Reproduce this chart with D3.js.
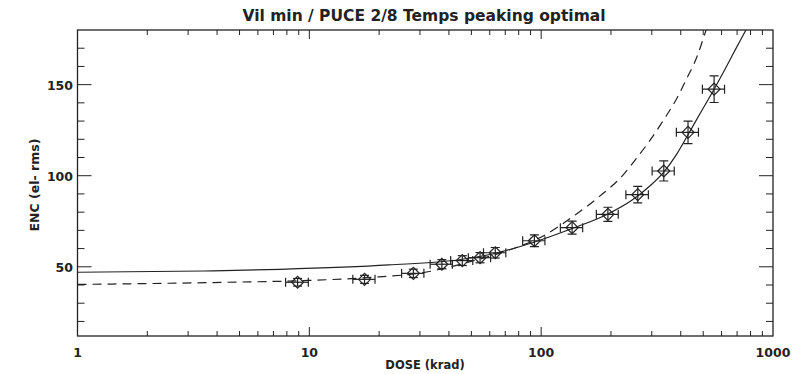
<!DOCTYPE html>
<html>
<head>
<meta charset="utf-8">
<script src="https://cdn.jsdelivr.net/npm/d3@7"></script>
<style>
  body { margin: 0; background: #fff; }
  text { font-family: "DejaVu Sans", sans-serif; fill: #222; }
</style>
</head>
<body>
<svg id="chart" width="803" height="374"></svg>
<script>
// measured points
var doses   = [8.9, 17.3, 28.1, 37.3, 45.7, 54.5, 63.4, 93.5, 136, 194, 261, 338, 430, 557];
var doseErr = [1.0, 1.9, 3.1, 4.1, 5.0, 6.0, 7.0, 10.3, 15, 21, 29, 37, 47, 61];
var enc     = [41.5, 43.1, 46.4, 51.4, 53.4, 55.0, 57.7, 64.3, 71.5, 78.8, 89.6, 102.6, 123.8, 147.5];
var encErr  = [2.1, 2.2, 2.3, 2.5, 2.7, 2.8, 2.9, 3.2, 3.6, 3.9, 4.5, 5.5, 6.2, 7.3];

// solid curve
var solidDose = [1, 3.5, 7.5, 22, 45, 63, 93, 136, 194, 246, 295, 338, 385, 430, 484, 557, 630, 700, 771, 820];
var solidEnc  = [47.0, 47.7, 48.6, 51.0, 54.0, 57.3, 63.5, 71.0, 79.0, 86.5, 94.5, 102.0, 112.0, 122.5, 134.0, 147.5, 160.0, 171.0, 181.0, 188.0];

// dashed curve
var dashDose = [1, 4.4, 10, 20, 30, 50, 70, 104, 142, 178, 226, 263, 295, 337, 385, 425, 469, 513, 540];
var dashEnc  = [40.3, 41.5, 42.5, 44.5, 46.5, 53.0, 58.5, 67.5, 79.0, 88.5, 100.5, 111.0, 119.5, 130.5, 142.5, 153.5, 165.0, 179.5, 188.0];

var xTicks = [1, 10, 100, 1000];
var yTicks = [50, 100, 150];

var svg = d3.select("#chart");
var x = d3.scaleLog().domain([1, 1000]).range([77.5, 773]);
var y = d3.scaleLinear().domain([12, 180]).range([336, 30]);
var ink = "#222";

// clip
svg.append("defs").append("clipPath").attr("id", "plot")
  .append("rect").attr("x", 77.5).attr("y", 30).attr("width", 773 - 77.5).attr("height", 336 - 30);

// frame
svg.append("rect").attr("x", 77.5).attr("y", 30).attr("width", 773 - 77.5).attr("height", 306)
  .attr("fill", "none").attr("stroke", ink).attr("stroke-width", 1.3);

// x ticks (bottom and top, pointing inwards)
var xMinor = [];
[1, 10, 100].forEach(function (d) { for (var k = 2; k <= 9; k++) xMinor.push(d * k); });
var xAll = xTicks.slice(1, 3).map(function (d) { return {v: d, len: 9}; })
  .concat(xMinor.map(function (d) { return {v: d, len: 5}; }));
xAll.forEach(function (t) {
  svg.append("line").attr("x1", x(t.v)).attr("x2", x(t.v)).attr("y1", 336).attr("y2", 336 - t.len)
    .attr("stroke", ink).attr("stroke-width", 1);
  svg.append("line").attr("x1", x(t.v)).attr("x2", x(t.v)).attr("y1", 30).attr("y2", 30 + t.len)
    .attr("stroke", ink).attr("stroke-width", 1);
});

// y ticks (left and right)
var yAll = [];
for (var v = 20; v <= 170; v += 10) yAll.push({v: v, len: (v % 50 === 0) ? 14 : 7});
yAll.forEach(function (t) {
  svg.append("line").attr("x1", 77.5).attr("x2", 77.5 + t.len).attr("y1", y(t.v)).attr("y2", y(t.v))
    .attr("stroke", ink).attr("stroke-width", 1);
  svg.append("line").attr("x1", 773).attr("x2", 773 - t.len).attr("y1", y(t.v)).attr("y2", y(t.v))
    .attr("stroke", ink).attr("stroke-width", 1);
});

// tick labels
svg.selectAll(".xl").data(xTicks).enter().append("text")
  .attr("x", function (d) { return x(d); }).attr("y", 357)
  .attr("text-anchor", "middle").attr("font-size", 12.5).attr("font-weight", "bold")
  .text(function (d) { return d; });
svg.selectAll(".yl").data(yTicks).enter().append("text")
  .attr("x", 73).attr("y", function (d) { return y(d) + 5; })
  .attr("text-anchor", "end").attr("font-size", 12.5).attr("font-weight", "bold")
  .text(function (d) { return d; });

// titles
svg.append("text").attr("x", 424).attr("y", 21).attr("text-anchor", "middle")
  .attr("font-size", 15.5).attr("font-weight", "bold").text("Vil min / PUCE 2/8 Temps peaking optimal");
svg.append("text").attr("x", 425).attr("y", 369).attr("text-anchor", "middle")
  .attr("font-size", 11.5).attr("font-weight", "bold").text("DOSE (krad)");
svg.append("text").attr("transform", "translate(39,185) rotate(-90)").attr("text-anchor", "middle")
  .attr("font-size", 12.5).attr("font-weight", "bold").text("ENC (el- rms)");

// curves
var g = svg.append("g").attr("clip-path", "url(#plot)");
var line = d3.line().x(function (d) { return x(d[0]); }).y(function (d) { return y(d[1]); })
  .curve(d3.curveMonotoneX);
g.append("path").datum(d3.zip(solidDose, solidEnc)).attr("d", line)
  .attr("fill", "none").attr("stroke", ink).attr("stroke-width", 1.2);
g.append("path").datum(d3.zip(dashDose, dashEnc)).attr("d", line)
  .attr("fill", "none").attr("stroke", ink).attr("stroke-width", 1.2).attr("stroke-dasharray", "9,6");

// points with error bars
var pts = g.selectAll(".pt").data(d3.range(doses.length)).enter().append("g")
  .attr("stroke", ink).attr("stroke-width", 1.2).attr("fill", "none");
pts.each(function (i) {
  var p = d3.select(this);
  var cx = x(doses[i]), cy = y(enc[i]);
  var x0 = x(doses[i] - doseErr[i]), x1 = x(doses[i] + doseErr[i]);
  var y0 = y(enc[i] - encErr[i]), y1 = y(enc[i] + encErr[i]);
  p.append("line").attr("x1", x0).attr("x2", x1).attr("y1", cy).attr("y2", cy);
  p.append("line").attr("x1", x0).attr("x2", x0).attr("y1", cy - 4.5).attr("y2", cy + 4.5);
  p.append("line").attr("x1", x1).attr("x2", x1).attr("y1", cy - 4.5).attr("y2", cy + 4.5);
  p.append("line").attr("x1", cx).attr("x2", cx).attr("y1", y0).attr("y2", y1);
  p.append("line").attr("x1", cx - 4.5).attr("x2", cx + 4.5).attr("y1", y0).attr("y2", y0);
  p.append("line").attr("x1", cx - 4.5).attr("x2", cx + 4.5).attr("y1", y1).attr("y2", y1);
  p.append("path").attr("d", "M" + (cx - 6) + "," + cy + "L" + cx + "," + (cy - 6) +
    "L" + (cx + 6) + "," + cy + "L" + cx + "," + (cy + 6) + "Z");
});
</script>
</body>
</html>
